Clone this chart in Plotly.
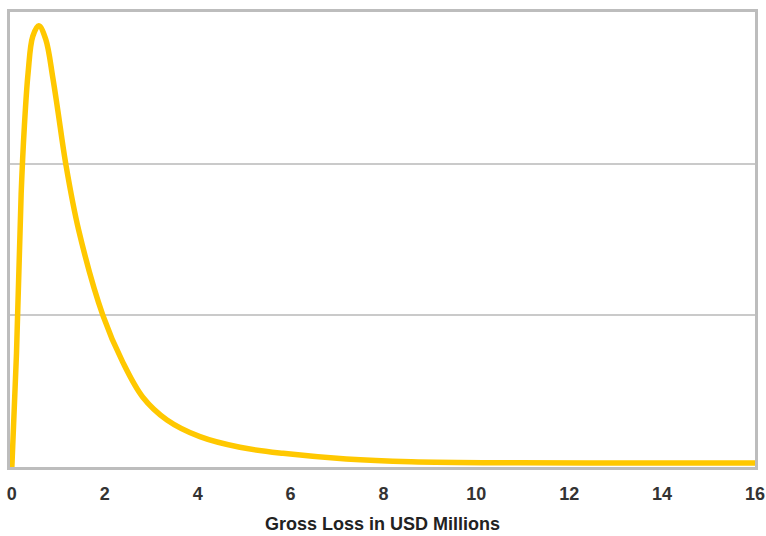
import plotly.graph_objects as go

# Gross loss (USD millions) and density values
loss_x = [0, 0.1, 0.2, 0.27, 0.35, 0.45, 0.58, 0.73, 0.88, 0.99, 1.16, 1.44,
          1.96, 2.39, 2.82, 3.34, 4.05, 4.91, 5.84, 7.2, 8.6, 10.9, 13.5, 16]
density = [0.0, 0.75, 1.8, 2.25, 2.6, 2.84, 2.91, 2.82, 2.57, 2.35, 2.0, 1.56,
           1.0, 0.69, 0.46, 0.31, 0.20, 0.13, 0.09, 0.053, 0.035, 0.028, 0.027, 0.027]
x_ticks = [0, 2, 4, 6, 8, 10, 12, 14, 16]
x_title = "Gross Loss in USD Millions"

fig = go.Figure()
fig.add_trace(go.Scatter(
    x=loss_x, y=density, mode="lines",
    line=dict(color="#FFC800", width=5.5, shape="spline", smoothing=1.0),
    hoverinfo="skip", showlegend=False,
))

fig.update_layout(
    width=766, height=536,
    margin=dict(l=10, r=11, t=12, b=69, autoexpand=False),
    paper_bgcolor="white", plot_bgcolor="white",
    font=dict(family="Liberation Sans, Arial, sans-serif", color="#333333"),
    xaxis=dict(
        range=[-0.04, 16], tickvals=x_ticks, ticktext=[str(v) for v in x_ticks],
        showgrid=False, zeroline=False, automargin=False,
        showline=True, mirror=True, linecolor="#BDBDBD", linewidth=3,
        ticks="", ticklen=0, ticklabelstandoff=8, ticklabeloverflow="allow",
        tickfont=dict(size=18, color="#333333", weight="bold"),
        title=dict(text=x_title, font=dict(size=18, color="#222222", weight="bold"), standoff=15),
    ),
    yaxis=dict(
        range=[0, 3], tickvals=[1, 2], showticklabels=False, automargin=False,
        showgrid=True, gridcolor="#CACACA", gridwidth=2, zeroline=False,
        showline=True, mirror=True, linecolor="#BDBDBD", linewidth=3,
        ticks="",
    ),
)

fig.write_html(
    "out.html",
    config={"displayModeBar": False, "staticPlot": True},
    post_script="document.body.style.margin='0';document.body.style.overflow='hidden';",
)
